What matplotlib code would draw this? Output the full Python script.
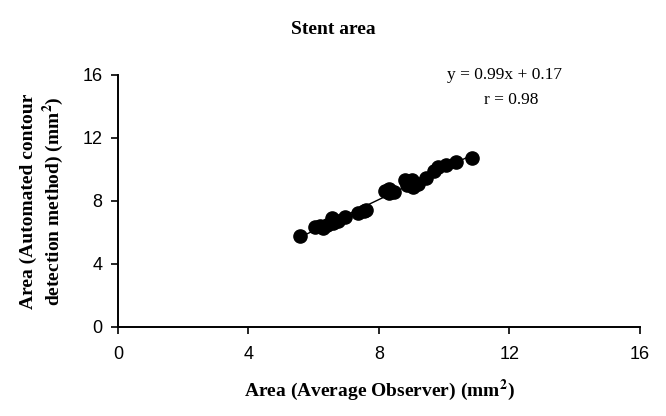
import numpy as np
import matplotlib
matplotlib.use("Agg")
import matplotlib.pyplot as plt

plt.rcParams["mathtext.fontset"] = "stix"

# 観察者平均 vs 自動輪郭検出 (stent area, mm2)
obs_x = [5.58, 6.05, 6.2, 6.3, 6.4, 6.55, 6.6, 6.75, 6.95, 7.35, 7.55, 7.6,
         8.2, 8.3, 8.3, 8.45, 8.8, 8.85, 9.0, 9.05, 9.2, 9.45, 9.7, 9.8,
         10.05, 10.35, 10.85]
auto_y = [5.75, 6.35, 6.4, 6.3, 6.5, 6.9, 6.6, 6.7, 7.0, 7.25, 7.35, 7.4,
          8.6, 8.75, 8.5, 8.55, 9.3, 9.0, 9.3, 8.9, 9.1, 9.45, 9.9, 10.15,
          10.25, 10.45, 10.7]
slope = 0.99
intercept = 0.17
ticks = [0, 4, 8, 12, 16]

fig = plt.figure(figsize=(6.66, 4.16), dpi=100)
ax = fig.add_axes([0.177, 0.214, 0.784, 0.606])

xs = np.array([min(obs_x), max(obs_x)])
ax.plot(xs, slope * xs + intercept, color="black", lw=1.0, zorder=1)
ax.plot(obs_x, auto_y, "o", color="black", ms=9.5, zorder=2)

ax.set_xlim(0, 16)
ax.set_ylim(0, 16)
ax.set_xticks(ticks)
ax.set_yticks(ticks)
for lbl in ax.get_xticklabels() + ax.get_yticklabels():
    lbl.set_fontfamily("Liberation Sans")
    lbl.set_fontsize(13)
ax.tick_params(direction="out", length=5, width=1.2, pad=6)
ax.tick_params(axis="x", pad=9)
for s in ["top", "right"]:
    ax.spines[s].set_visible(False)
for s in ["left", "bottom"]:
    ax.spines[s].set_linewidth(1.4)

serif = {"family": "Liberation Serif", "weight": "bold", "size": 14}
ax.set_xlabel("Area (Average Observer) (mm$^\\mathbf{2}$)", fontdict=serif, labelpad=10)
ax.set_ylabel("Area (Automated contour\ndetection method) (mm$^\\mathbf{2}$)", fontdict=serif, labelpad=12)
fig.text(0.5, 0.93, "Stent area", ha="center", va="center",
         family="Liberation Serif", weight="bold", size=14)

ax.text(11.85, 16.0, "y = 0.99x + 0.17", ha="center", va="center",
        family="Liberation Serif", fontsize=12.5)
ax.text(12.05, 14.4, "r = 0.98", ha="center", va="center",
        family="Liberation Serif", fontsize=12.5)

fig.savefig("out.png", dpi=100)
